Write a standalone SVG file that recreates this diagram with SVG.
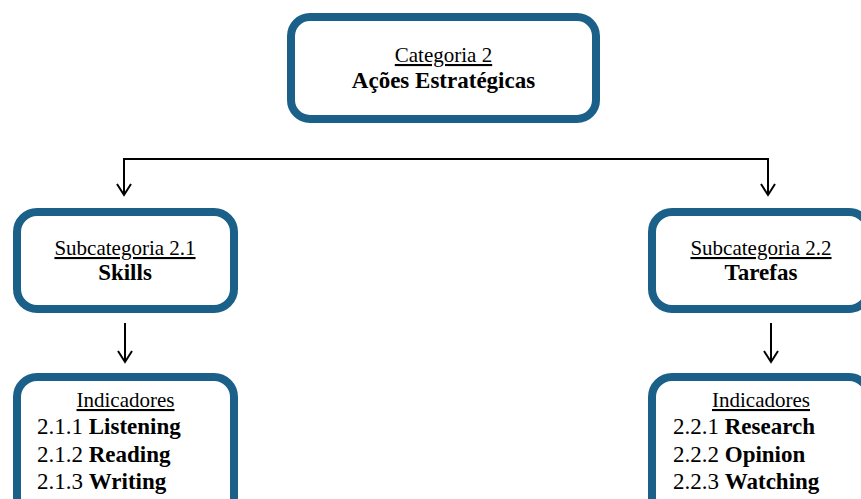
<svg xmlns="http://www.w3.org/2000/svg" width="861" height="499" viewBox="0 0 861 499">
<defs>
<style>
.box{fill:#fff;stroke:#1a6088;stroke-width:8}
.t{font-family:"Liberation Serif","Times New Roman",serif;fill:#000;text-anchor:middle}
.u{font-size:21px;text-decoration:underline}
.b{font-size:23px;font-weight:bold}
.ind{font-family:"Liberation Serif","Times New Roman",serif;fill:#000;font-size:23px}
.ind tspan.bb{font-weight:bold}
.c{fill:none;stroke:#000;stroke-width:2}
.ah{fill:none;stroke:#000;stroke-width:2;stroke-linejoin:miter}
</style>
</defs>
<rect width="861" height="499" fill="#fff"/>
<g id="connectors">
<path class="c" d="M124,194 V159 H768 V194"/>
<path class="ah" d="M117,184 L124,195 L131,184"/>
<path class="ah" d="M761,184 L768,195 L775,184"/>
<path class="c" d="M125,323 V361"/>
<path class="ah" d="M118,351 L125,362 L132,351"/>
<path class="c" d="M771,323 V361"/>
<path class="ah" d="M764,351 L771,362 L778,351"/>
</g>
<g id="cat2">
<rect class="box" x="291" y="17" width="305" height="102" rx="19"/>
<text class="t u" x="443.5" y="62">Categoria 2</text>
<text class="t b" x="443.5" y="88">Ações Estratégicas</text>
</g>
<g id="sub21">
<rect class="box" x="17" y="212" width="217" height="97" rx="20"/>
<text class="t u" x="125" y="255">Subcategoria 2.1</text>
<text class="t b" x="125" y="280">Skills</text>
</g>
<g id="sub22">
<rect class="box" x="652" y="212" width="217" height="97" rx="20"/>
<text class="t u" x="761" y="255">Subcategoria 2.2</text>
<text class="t b" x="761" y="280">Tarefas</text>
</g>
<g id="ind21">
<rect class="box" x="17" y="377" width="217" height="140" rx="20"/>
<text class="t u" x="125.5" y="407">Indicadores</text>
<text class="ind" x="37" y="434">2.1.1 <tspan class="bb">Listening</tspan></text>
<text class="ind" x="37" y="462">2.1.2 <tspan class="bb">Reading</tspan></text>
<text class="ind" x="37" y="489">2.1.3 <tspan class="bb">Writing</tspan></text>
</g>
<g id="ind22">
<rect class="box" x="652" y="377" width="217" height="140" rx="20"/>
<text class="t u" x="761" y="407">Indicadores</text>
<text class="ind" x="673" y="434">2.2.1 <tspan class="bb">Research</tspan></text>
<text class="ind" x="673" y="462">2.2.2 <tspan class="bb">Opinion</tspan></text>
<text class="ind" x="673" y="489">2.2.3 <tspan class="bb">Watching</tspan></text>
</g>
</svg>
